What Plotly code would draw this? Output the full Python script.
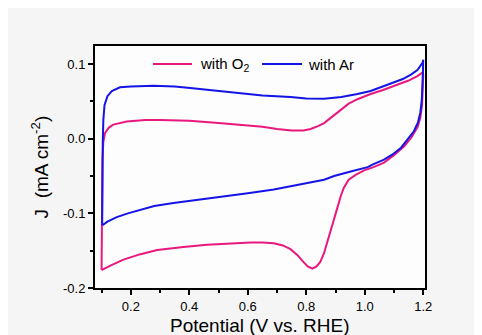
import plotly.graph_objects as go

# O2 cycle (anodic then cathodic sweep)
o2_x = [0.100, 0.101, 0.102, 0.103, 0.106, 0.112, 0.125, 0.14, 0.186, 0.25, 0.30, 0.40, 0.50,
        0.575, 0.65, 0.70, 0.75, 0.79, 0.815, 0.84, 0.861, 0.89, 0.918, 0.945, 0.975, 1.02, 1.06,
        1.10, 1.15, 1.18, 1.198,
        1.200, 1.199, 1.196, 1.190, 1.181, 1.16, 1.135, 1.10, 1.066, 1.03, 1.00, 0.97, 0.945,
        0.928, 0.917, 0.906, 0.895, 0.884, 0.872, 0.861, 0.848, 0.835, 0.821, 0.805, 0.79, 0.77,
        0.746, 0.72, 0.689, 0.65, 0.61, 0.55, 0.46, 0.38, 0.29, 0.23, 0.175, 0.13, 0.103, 0.100]
o2_y = [-0.176, -0.12, -0.07, -0.028, -0.004, 0.008, 0.015, 0.019, 0.023, 0.025, 0.025, 0.024, 0.021,
        0.019, 0.016, 0.013, 0.011, 0.011, 0.013, 0.017, 0.021, 0.030, 0.039, 0.047, 0.053, 0.060, 0.065,
        0.071, 0.078, 0.084, 0.089,
        0.086, 0.07, 0.045, 0.028, 0.016, 0.002, -0.010, -0.022, -0.032, -0.038, -0.042, -0.048, -0.055,
        -0.066, -0.078, -0.093, -0.108, -0.124, -0.138, -0.153, -0.165, -0.171, -0.174, -0.171, -0.165, -0.156,
        -0.148, -0.143, -0.140, -0.139, -0.139, -0.140, -0.142, -0.145, -0.149, -0.155, -0.162, -0.170, -0.175, -0.176]

# Ar cycle
ar_x = [0.102, 0.102, 0.103, 0.104, 0.106, 0.110, 0.120, 0.135, 0.163, 0.20, 0.278, 0.35, 0.403,
        0.50, 0.575, 0.65, 0.746, 0.80, 0.861, 0.92, 0.975, 1.02, 1.089, 1.13, 1.158, 1.18, 1.198,
        1.200, 1.199, 1.197, 1.195, 1.190, 1.182, 1.168, 1.152, 1.124, 1.095, 1.066, 1.03, 1.01,
        0.952, 0.895, 0.861, 0.781, 0.689, 0.60, 0.518, 0.43, 0.346, 0.28, 0.232, 0.19, 0.152, 0.12,
        0.103]
ar_y = [-0.116, -0.08, -0.04, -0.006, 0.025, 0.045, 0.057, 0.064, 0.069, 0.070, 0.071, 0.070, 0.068,
        0.064, 0.061, 0.058, 0.056, 0.054, 0.0535, 0.056, 0.060, 0.064, 0.074, 0.080, 0.086, 0.092, 0.102,
        0.106, 0.090, 0.070, 0.052, 0.035, 0.022, 0.010, 0.002, -0.012, -0.021, -0.028, -0.034, -0.038,
        -0.044, -0.050, -0.055, -0.0615, -0.068, -0.073, -0.077, -0.081, -0.086, -0.090, -0.095, -0.100,
        -0.105, -0.111, -0.116]

series_names = ["with O<sub>2</sub>", "with Ar"]
x_ticks = [0.2, 0.4, 0.6, 0.8, 1.0, 1.2]
x_ticklabels = ["0.2", "0.4", "0.6", "0.8", "1.0", "1.2"]
y_ticks = [-0.2, -0.1, 0.0, 0.1]
y_ticklabels = ["-0.2", "-0.1", "0.0", "0.1"]
x_title = "Potential (V vs. RHE)"
y_title = "J  (mA cm<sup>-2</sup>)"

PINK = "#E8187E"
BLUE = "#1414E6"
FONT = "Liberation Sans, Arial, sans-serif"

fig = go.Figure()
fig.add_trace(go.Scatter(x=o2_x, y=o2_y, mode="lines", name=series_names[0],
                         line=dict(color=PINK, width=2), showlegend=False))
fig.add_trace(go.Scatter(x=ar_x, y=ar_y, mode="lines", name=series_names[1],
                         line=dict(color=BLUE, width=2), showlegend=False))

axis_common = dict(showline=True, linecolor="black", linewidth=2, mirror=True,
                   ticks="outside", ticklen=5, tickwidth=1.5, tickcolor="black",
                   showgrid=False, zeroline=False, automargin=False,
                   tickfont=dict(family=FONT, size=13, color="black"))

fig.update_xaxes(range=[0.0775, 1.206], tickvals=x_ticks, ticktext=x_ticklabels,
                 minor=dict(ticks="outside", ticklen=3, tickwidth=1.5, tickcolor="black", dtick=0.1,
                            tick0=0.1),
                 **axis_common)
fig.update_yaxes(range=[-0.2, 0.1243], tickvals=y_ticks, ticktext=y_ticklabels,
                 minor=dict(ticks="outside", ticklen=3, tickwidth=1.5, tickcolor="black", dtick=0.05,
                            tick0=0.05),
                 **axis_common)

fig.add_annotation(text=x_title, xref="paper", yref="paper", x=0.5, y=-0.153,
                   xanchor="center", yanchor="middle", showarrow=False,
                   font=dict(family=FONT, size=19, color="black"))
fig.add_annotation(text=y_title, xref="paper", yref="paper", x=-0.167, y=0.502,
                   xanchor="center", yanchor="middle", showarrow=False, textangle=-90,
                   font=dict(family=FONT, size=19, color="black"))

# legend drawn inside the top of the frame
leg_y = 0.9256
legend_items = [(0.1758, 0.2939, 0.3121, PINK, series_names[0]),
                (0.5061, 0.6273, 0.6394, BLUE, series_names[1])]
for x0, x1, xt, col, name in legend_items:
    fig.add_shape(type="line", xref="paper", yref="paper", x0=x0, x1=x1, y0=leg_y, y1=leg_y,
                  line=dict(color=col, width=2))
    fig.add_annotation(text=name, xref="paper", yref="paper", x=xt, y=leg_y,
                       xanchor="left", yanchor="middle", showarrow=False,
                       font=dict(family=FONT, size=15, color="black"))

# page body adds an 8px offset; figure sized so the plot frame lands at the reference position
fig.update_layout(
    width=474, height=327,
    margin=dict(l=87, r=57, t=38, b=47),
    paper_bgcolor="#f5f5f5", plot_bgcolor="#fdfdfd",
    showlegend=False,
)

fig.write_html("out.html")
